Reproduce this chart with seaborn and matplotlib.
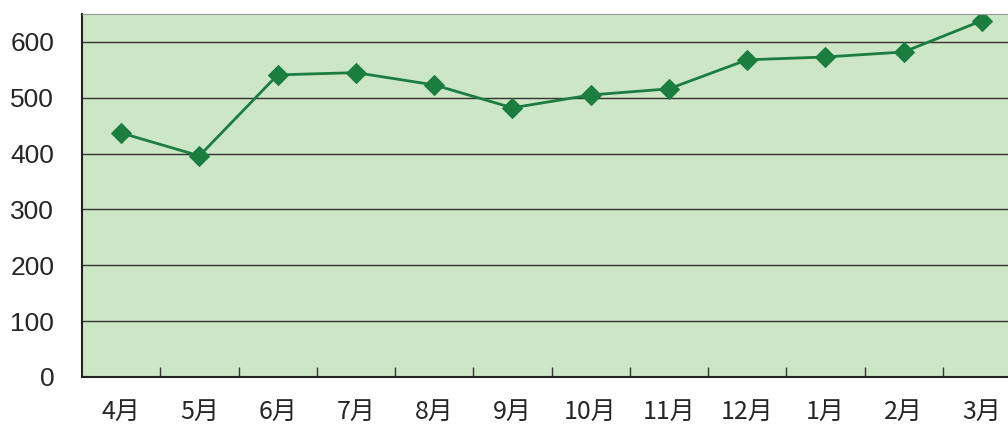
import pandas as pd
import matplotlib.pyplot as plt
import seaborn as sns
from matplotlib.ticker import FixedLocator

sns.set_style("white")
plt.rcParams['font.family'] = ['Liberation Sans', 'Noto Sans CJK JP', 'DejaVu Sans']

# monthly values
months = ["4月", "5月", "6月", "7月", "8月", "9月", "10月", "11月", "12月", "1月", "2月", "3月"]
values = [437, 396, 541, 545, 523, 482, 505, 516, 568, 573, 582, 638]

df = pd.DataFrame({"month": months, "value": values})

fig = plt.figure(figsize=(10.08, 4.30), dpi=100)
ax = fig.add_axes([82 / 1008, 53 / 430, 939 / 1008, 363 / 430])
ax.set_facecolor("#cde6c5")

sns.lineplot(data=df, x="month", y="value", ax=ax, color="#1b7d40", linewidth=2,
             marker="D", markersize=10, markeredgecolor="#1b7d40", sort=False)

ax.set_xlim(-0.5, len(months) - 0.5)
ax.set_ylim(0, 650)
ax.set_yticks(range(0, 700, 100))
ax.yaxis.grid(True, color="#333333", linewidth=1)
ax.set_axisbelow(True)

ax.set_xticks(range(len(months)))
ax.set_xticklabels(months, family=['Noto Sans CJK JP'], fontsize=18)
ax.xaxis.set_minor_locator(FixedLocator([i + 0.5 for i in range(len(months) - 1)]))
ax.tick_params(axis="x", which="major", length=0, pad=16)
ax.tick_params(axis="x", which="minor", direction="in", length=7, width=1, color="#333333", bottom=True)
ax.tick_params(axis="y", length=0, labelsize=19, pad=20)

for side in ["left", "bottom"]:
    ax.spines[side].set_color("#222222")
    ax.spines[side].set_linewidth(1.5)
ax.spines["top"].set_color("#999999")
ax.spines["right"].set_visible(False)

ax.set_xlabel("")
ax.set_ylabel("")

fig.savefig("out.png", dpi=100)
